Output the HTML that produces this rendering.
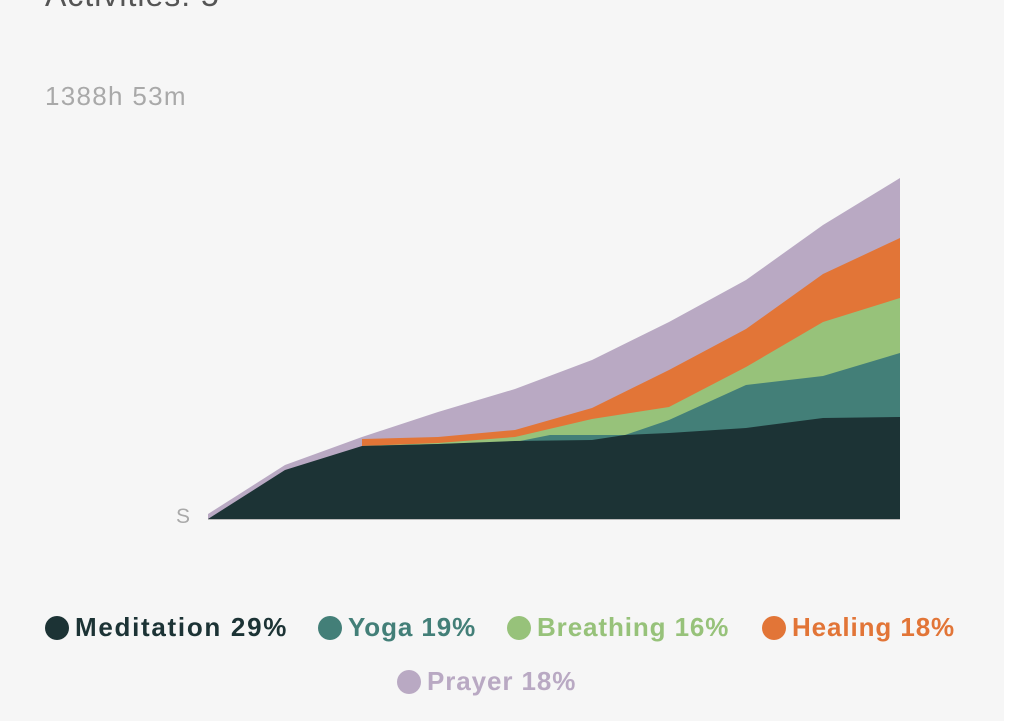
<!DOCTYPE html>
<html><head><meta charset="utf-8"><style>
html,body{margin:0;padding:0;}
body{width:1014px;height:721px;background:#fff;position:relative;overflow:hidden;font-family:"Liberation Sans",sans-serif;}
#bg{position:absolute;left:0;top:0;width:1004px;height:721px;background:#f6f6f6;}
.t{position:absolute;white-space:nowrap;}
.lg{position:absolute;font-weight:bold;font-size:26px;letter-spacing:0.9px;white-space:nowrap;display:flex;align-items:center;}
.dot{width:24px;height:24px;border-radius:50%;display:inline-block;margin-right:6px;}
</style></head><body>
<div id="bg"></div>
<div class="t" style="left:45px;top:-23px;font-size:32px;letter-spacing:1px;color:#555;">Activities: 5</div>
<div class="t" style="left:45px;top:81px;font-size:26px;letter-spacing:1.3px;color:#a9a9a9;">1388h 53m</div>
<div class="t" style="left:176px;top:505px;font-size:21px;color:#a9a9a9;">S</div>
<svg style="position:absolute;left:0;top:0" width="1014" height="721">
<polygon fill="#b9a9c3" points="208,519 208,514 285,465 362,437 438,412 515,389 592,360 669,322 746,280 823,225 900,178 900,519"/>
<polygon fill="#e27537" points="362,519 362,439 438,437 515,430 592,408 669,370 746,329 823,274 900,238 900,519"/>
<polygon fill="#97c27a" points="362,519 362,446 438,443 515,437 592,419 669,407 746,367 823,322 900,298 900,519"/>
<polygon fill="#437f78" points="362,519 362,446 438,444 515,442 550,435 625,435 669,420 746,385 823,376 900,353 900,519"/>
<polygon fill="#1c3335" points="208,519 285,470 362,446 438,444 515,441 592,440 625,435 669,433 746,428 823,418 900,417 900,519"/>
<line x1="208" y1="519.5" x2="900" y2="519.5" stroke="#bbb" stroke-width="1"/>
</svg>
<div class="lg" style="left:45px;top:612px;color:#1c3335;letter-spacing:1.7px;"><span class="dot" style="background:#1c3335"></span>Meditation 29%</div>
<div class="lg" style="left:318px;top:612px;color:#437f78;"><span class="dot" style="background:#437f78"></span>Yoga 19%</div>
<div class="lg" style="left:507px;top:612px;color:#97c27a;"><span class="dot" style="background:#97c27a"></span>Breathing 16%</div>
<div class="lg" style="left:762px;top:612px;color:#e27537;"><span class="dot" style="background:#e27537"></span>Healing 18%</div>
<div class="lg" style="left:397px;top:666px;color:#b9a9c3;"><span class="dot" style="background:#b9a9c3"></span>Prayer 18%</div>
</body></html>
